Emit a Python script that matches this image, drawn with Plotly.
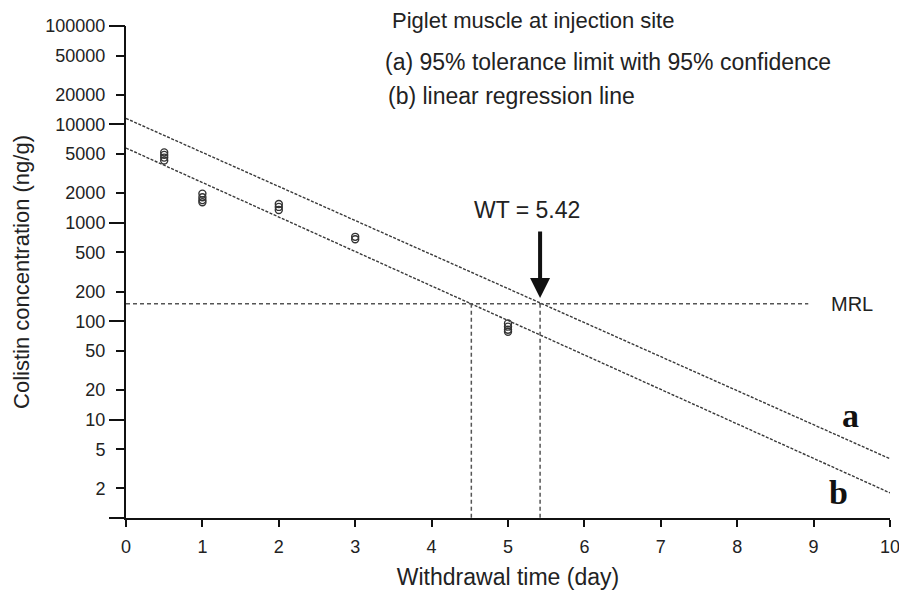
import plotly.graph_objects as go
import numpy as np

# ---- data ----
day_points = [0.5, 0.5, 0.5, 0.5, 1, 1, 1, 1, 2, 2, 2, 3, 3, 5, 5, 5, 5]
conc_points = [5200, 4900, 4600, 4300, 1980, 1820, 1700, 1620, 1550, 1450, 1350, 720, 680, 95, 88, 82, 78]

line_days = [0, 10]
tol_limit = [11500, 4.0]      # (a) 95% tolerance limit
regression = [5750, 1.8]      # (b) linear regression line

mrl = 150
mrl_days = [0, 8.93]
wt = 5.42
wt_reg = 4.52

x_ticks = list(range(0, 11))
y_ticks = [2, 5, 10, 20, 50, 100, 200, 500, 1000, 2000, 5000, 10000, 20000, 50000, 100000]
y_decades = [1, 10, 100, 1000, 10000, 100000]

FONT = "Liberation Sans, Arial, sans-serif"
INK = "#222222"
LINE = "#3a3a3a"

fig = go.Figure()

# lines a and b
fig.add_trace(go.Scatter(x=line_days, y=tol_limit, mode="lines",
                         line=dict(color=LINE, width=1.4, dash="3px,1.5px"), showlegend=False))
fig.add_trace(go.Scatter(x=line_days, y=regression, mode="lines",
                         line=dict(color=LINE, width=1.4, dash="3px,1.5px"), showlegend=False))

# MRL line
fig.add_trace(go.Scatter(x=mrl_days, y=[mrl, mrl], mode="lines",
                         line=dict(color="#555555", width=1.5, dash="4px,3px"), showlegend=False))
# vertical drop lines
for xv in (wt_reg, wt):
    fig.add_trace(go.Scatter(x=[xv, xv], y=[mrl, 1], mode="lines",
                             line=dict(color="#555555", width=1.5, dash="4px,3px"), showlegend=False))

# data points
fig.add_trace(go.Scatter(x=day_points, y=conc_points, mode="markers",
                         marker=dict(symbol="circle-open", size=7, color="#333333",
                                     line=dict(width=1.4, color="#333333")),
                         showlegend=False))

# invisible trace on the decade-tick axis
fig.add_trace(go.Scatter(x=[None], y=[None], yaxis="y2", showlegend=False, hoverinfo="skip"))

annotations = [
    dict(text="Piglet muscle at injection site", xref="paper", yref="paper",
         x=0.345, y=1.012, xanchor="left", yanchor="middle", showarrow=False,
         font=dict(size=22, color=INK, family=FONT)),
    dict(text="(a) 95% tolerance limit with 95% confidence", xref="paper", yref="paper",
         x=0.337, y=0.927, xanchor="left", yanchor="middle", showarrow=False,
         font=dict(size=23, color=INK, family=FONT)),
    dict(text="(b) linear regression line", xref="paper", yref="paper",
         x=0.340, y=0.858, xanchor="left", yanchor="middle", showarrow=False,
         font=dict(size=23, color=INK, family=FONT)),
    dict(text="WT = " + str(wt), xref="paper", yref="paper",
         x=0.525, y=0.626, xanchor="center", yanchor="middle", showarrow=False,
         font=dict(size=23, color=INK, family=FONT)),
    dict(text="", x=wt, xref="x", y=0.447, yref="paper", showarrow=True,
         ax=0, ay=-68, arrowhead=2, arrowsize=1, arrowwidth=4, arrowcolor="#111111"),
    dict(text="MRL", x=9.5, xref="x", y=np.log10(mrl), yref="y", showarrow=False,
         xanchor="center", yanchor="middle", font=dict(size=20, color=INK, family=FONT)),
    dict(text="<b>a</b>", xref="paper", yref="paper", x=0.948, y=0.209,
         xanchor="center", yanchor="middle", showarrow=False,
         font=dict(size=34, color="#111111", family="Liberation Serif, Times New Roman, serif")),
    dict(text="<b>b</b>", xref="paper", yref="paper", x=0.932, y=0.051,
         xanchor="center", yanchor="middle", showarrow=False,
         font=dict(size=34, color="#111111", family="Liberation Serif, Times New Roman, serif")),
]

# page body has an 8px margin, so the figure is sized/offset to compensate
fig.update_layout(
    width=899, height=582, autosize=False,
    margin=dict(l=118, r=17, t=18, b=72),
    paper_bgcolor="white", plot_bgcolor="white",
    font=dict(family=FONT, size=18, color=INK),
    showlegend=False,
    annotations=annotations,
    xaxis=dict(
        range=[0, 10], tickvals=x_ticks, ticktext=[str(v) for v in x_ticks],
        showgrid=False, zeroline=False, showline=True, linecolor="#111111", linewidth=2,
        ticks="outside", ticklen=7, tickwidth=2, tickcolor="#111111",
        ticklabelstandoff=4, ticklabeloverflow="allow", automargin=False,
        tickfont=dict(size=18, color=INK),
        title=dict(text="Withdrawal time (day)", font=dict(size=23, color=INK), standoff=21),
    ),
    yaxis=dict(
        type="log", range=[0, 5], tickvals=y_ticks, ticktext=[str(v) for v in y_ticks],
        showgrid=False, zeroline=False, showline=True, linecolor="#111111", linewidth=2,
        ticks="outside", ticklen=8, tickwidth=2, tickcolor="#111111",
        ticklabelstandoff=7, ticklabeloverflow="allow", automargin=False,
        tickfont=dict(size=18, color=INK),
        title=dict(text="Colistin concentration (ng/g)", font=dict(size=22, color=INK), standoff=10),
    ),
    yaxis2=dict(
        type="log", range=[0, 5], overlaying="y", anchor="x", side="left",
        tickvals=y_decades, showticklabels=False, showgrid=False, zeroline=False,
        showline=False, ticks="outside", ticklen=16, tickwidth=2, tickcolor="#111111",
        automargin=False,
    ),
)

fig.write_html("out.html")
